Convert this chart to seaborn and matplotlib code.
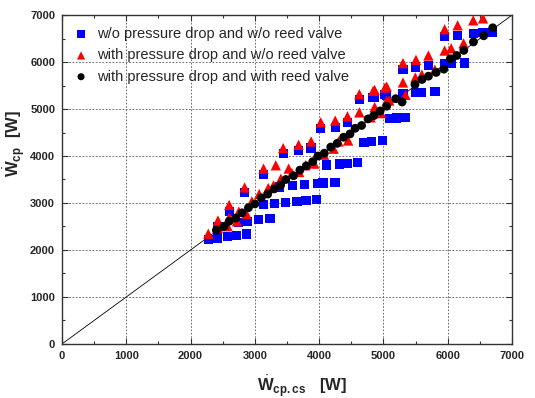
import pandas as pd
import matplotlib.pyplot as plt
import seaborn as sns
from matplotlib.ticker import MultipleLocator

sns.set_theme(style="ticks")
plt.rcParams["font.family"] = ["Liberation Sans", "DejaVu Sans"]
plt.rcParams["mathtext.fontset"] = "custom"
plt.rcParams["mathtext.rm"] = "Liberation Sans"
plt.rcParams["mathtext.bf"] = "Liberation Sans:bold"

# w/o pressure drop and w/o reed valve (blue squares)
blue_x = [2275, 2420, 2575, 2715, 2870,
          2750, 2886, 3057, 3233,
          3135, 3300, 3471, 3653, 3793, 3959,
          3378, 3585, 3777, 3984, 4062, 4244,
          4114, 4321, 4435, 4596,
          4699, 4813, 4984,
          5091, 5203, 5344,
          4863, 5051, 5304, 5496, 5597, 5800,
          5304, 5496, 5699, 5952, 6053, 6256,
          5952, 6154, 6397, 6549, 6701,
          2425, 2600, 2840, 3135, 3440, 3680, 3875, 4025, 4250, 4440, 4625, 4840, 5025]
blue_y = [2218, 2255, 2290, 2305, 2340,
          2580, 2600, 2645, 2667,
          2965, 2986, 3014, 3035, 3057, 3071,
          3340, 3376, 3390, 3411, 3426, 3440,
          3809, 3830, 3844, 3858,
          4291, 4305, 4326,
          4797, 4811, 4825,
          5252, 5301, 5322, 5350, 5350, 5371,
          5839, 5895, 5930, 5965, 5965, 5979,
          6538, 6573, 6608, 6629, 6629,
          2500, 2817, 3225, 3606, 4049, 4120, 4169, 4592, 4613, 4718, 5197, 5246, 5317]

# with pressure drop and w/o reed valve (red triangles)
red_x = [2275, 2425, 2600, 2840, 3135, 3325, 3440, 3680, 3875, 4025, 4250, 4440, 4625, 4840, 5025,
         5304, 5506, 5699, 5952, 6154, 6397, 6549,
         2425, 2575, 2600, 2720, 2750, 2870, 2953, 3067, 3207, 3290, 3404, 3525, 3575, 3689,
         3790, 3925, 4075, 4225, 4300, 4450, 4625, 4800, 4925, 5050,
         4863, 4965, 5091, 5344, 4863, 5051, 5304, 5496, 5597, 5800, 5952, 6053, 6246]
red_y = [2345, 2627, 2958, 3331, 3732, 3803, 4169, 4239, 4310, 4718, 4754, 4845, 5317, 5387, 5458,
         5979, 6049, 6140, 6699, 6783, 6888, 6930,
         2465, 2504, 2690, 2610, 2817, 2766, 3035, 3191, 3319, 3376, 3518, 3732, 3638, 3660,
         3803, 3838, 4028, 4155, 4310, 4331, 4929, 4824, 4915, 5176,
         5042, 4916, 5182, 5301, 5406, 5476, 5566, 5671, 5734, 5839, 6245, 6294, 6399]

# with pressure drop and with reed valve (black circles)
black_x = [2400, 2520, 2600, 2700, 2800, 2900, 3000, 3100, 3200, 3300, 3400, 3480, 3600, 3700,
           3800, 3900, 3980, 4080, 4180, 4280, 4380, 4480, 4560, 4660, 4760, 4850, 4950, 5050,
           5190, 5290, 5490, 5600, 5700, 5820, 5940, 6040, 6140, 6250, 6400, 6560, 6700]
black_y = [2420, 2500, 2610, 2680, 2790, 2900, 2980, 3110, 3190, 3300, 3380, 3500, 3580, 3700,
           3790, 3880, 4000, 4060, 4190, 4270, 4400, 4470, 4590, 4650, 4790, 4860, 4960, 5060,
           5220, 5150, 5520, 5630, 5700, 5780, 5850, 6070, 6140, 6250, 6430, 6560, 6730]

labels = ["w/o pressure drop and w/o reed valve",
          "with pressure drop and w/o reed valve",
          "with pressure drop and with reed valve"]

fig = plt.figure(figsize=(5.35, 3.98), dpi=100)
ax = fig.add_axes([0.116, 0.136, 0.841, 0.826])

ax.plot([0, 7000], [0, 7000], color="black", lw=0.6, zorder=1)

sns.scatterplot(x=blue_x, y=blue_y, marker="s", color="#0000ff", s=45,
                edgecolor="none", label=labels[0], ax=ax, zorder=3)
sns.scatterplot(x=red_x, y=red_y, marker="^", color="#ff0000", s=55,
                edgecolor="none", label=labels[1], ax=ax, zorder=4)
sns.scatterplot(x=black_x, y=black_y, marker="o", color="black", s=40,
                edgecolor="none", label=labels[2], ax=ax, zorder=5)

ax.set_xlim(0, 7000)
ax.set_ylim(0, 7000)
ax.xaxis.set_major_locator(MultipleLocator(1000))
ax.yaxis.set_major_locator(MultipleLocator(1000))
ax.xaxis.set_minor_locator(MultipleLocator(500))
ax.yaxis.set_minor_locator(MultipleLocator(500))
ax.tick_params(which="both", direction="in", top=True, right=True, color="#333333")
ax.tick_params(which="major", length=4, width=0.8, labelsize=8, pad=5)
ax.tick_params(which="minor", length=2.5, width=0.8)
for lab in ax.get_xticklabels() + ax.get_yticklabels():
    lab.set_fontweight("bold")

ax.grid(True, which="major", color="#555555", lw=0.6, ls=(0, (2, 2)))
ax.set_axisbelow(True)
for sp in ax.spines.values():
    sp.set_color("#333333")
    sp.set_linewidth(1.0)

ax.set_xlabel(r"$\dot{\mathbf{W}}_{\mathbf{cp.cs}}$   [W]", fontsize=12, fontweight="bold")
ax.set_ylabel(r"$\dot{\mathbf{W}}_{\mathbf{cp}}$  [W]", fontsize=12, fontweight="bold")
ax.xaxis.set_label_coords(0.533, -0.09)
ax.yaxis.set_label_coords(-0.075, 0.61)

leg = ax.legend(loc="upper left", frameon=False, fontsize=10.5, handlelength=1.2,
                handletextpad=0.5, labelspacing=0.5, borderaxespad=0.3, markerscale=0.8,
                bbox_to_anchor=(0.0, 0.995))

fig.savefig("out.png", dpi=100)
